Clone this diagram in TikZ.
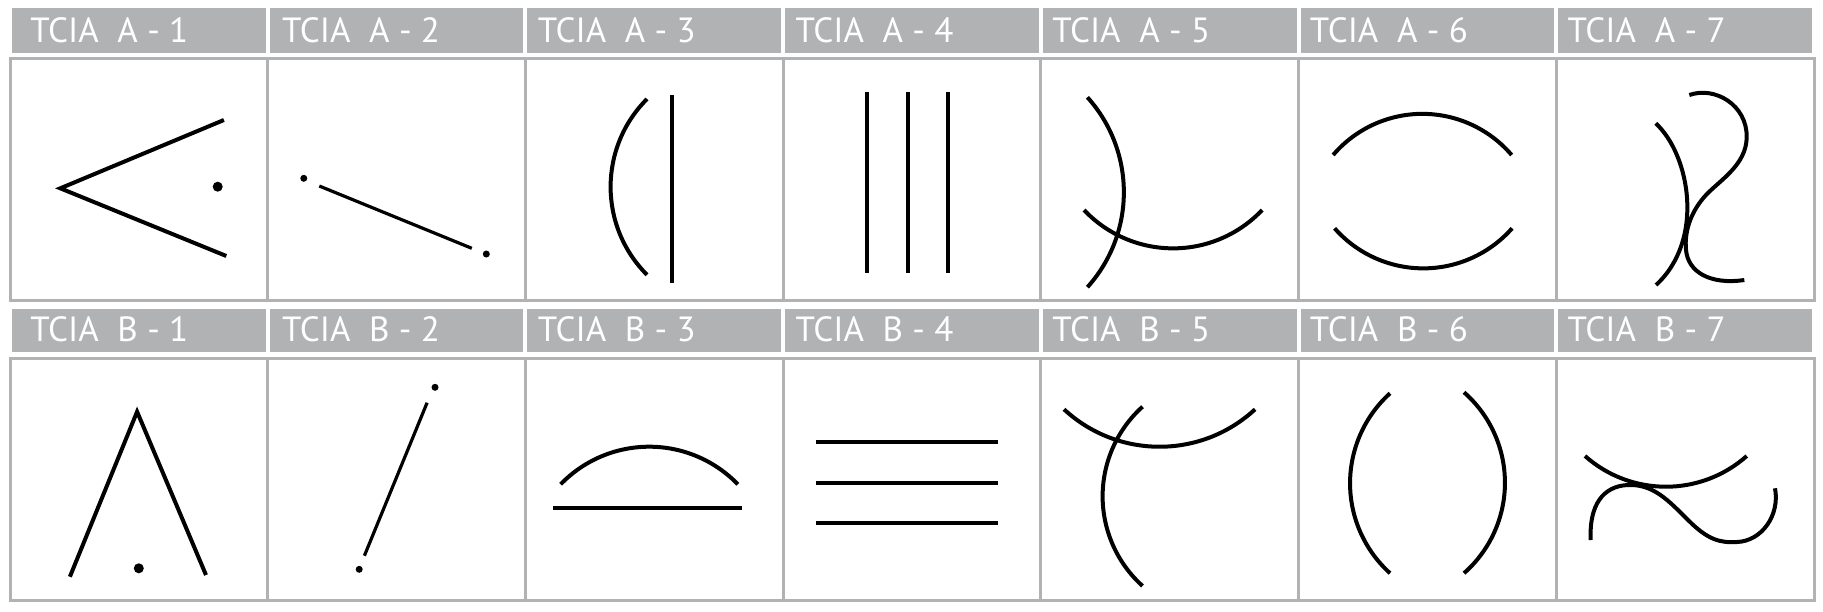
\documentclass[tikz,border=0pt]{standalone}
\usepackage{fontspec}
\setmainfont{PT Sans}
\usetikzlibrary{calc}
\definecolor{tciagray}{RGB}{177,178,180}

\begin{document}
\begin{tikzpicture}[x=0.5pt,y=-0.5pt,
  cellframe/.style={draw=tciagray, line width=1.5pt},
  headlbl/.style={text=white, anchor=base west, inner sep=0pt, font=\fontsize{17.5}{20}\selectfont},
  stroke/.style={draw=black, line width=2pt},
  thinstroke/.style={draw=black, line width=1.6pt}]
\useasboundingbox (0,0) rectangle (1823,611);

% header bars, frames and labels
\foreach \i/\dx [evaluate=\i as \xl using 10+257.714*\i,
                 evaluate=\i as \xr using 10+257.714*(\i+1),
                 evaluate=\i as \k using int(\i+1)]
    in {0/20,1/14,2/12,3/12,4/11,5/11,6/11} {
  \fill[tciagray] (\xl+2,8) rectangle (\xr-2,52.5);
  \fill[tciagray] (\xl+2,309) rectangle (\xr-2,352);
  \draw[cellframe] (\xl,58) rectangle (\xr,300);
  \draw[cellframe] (\xl,358) rectangle (\xr,600);
  \node[headlbl] (labA\k) at (\xl+\dx,42) {TCIA\ \ A - \k};
  \node[headlbl] (labB\k) at (\xl+\dx,341) {TCIA\ \ B - \k};
}

% A-1 chevron
\draw[stroke] (223.9,120) -- (60.3,188.3) -- (226.3,256);
\fill (217.7,186.7) circle[radius=5];

% A-2 line with dots
\fill (303.8,178.3) circle[radius=3.5];
\draw[thinstroke] (319.3,186) -- (471.8,248.3);
\fill (486.3,254) circle[radius=3.5];

% A-3 arc and bar
\draw[stroke] (647,99) arc[start angle=225, end angle=135, radius=124.3];
\draw[stroke] (672.2,95) -- (672.2,283.3);

% A-4 three bars
\draw[stroke] (867.2,91.7) -- (867.2,273.3);
\draw[stroke] (907.8,91.7) -- (907.8,273.3);
\draw[stroke] (948.1,91.7) -- (948.1,273.3);

% A-5 crossing arcs
\draw[stroke] (1087.4,97.3) arc[start angle=-42, end angle=42, radius=141.9];
\draw[stroke] (1084,210) arc[start angle=136.6, end angle=43.4, radius=122.6];

% A-6 facing arcs
\draw[stroke] (1333.1,155) arc[start angle=220.5, end angle=319.5, radius=117.4];
\draw[stroke] (1334.6,228.3) arc[start angle=138.6, end angle=41.4, radius=118.3];

% A-7 arc and s-curve
\draw[stroke] (1655.7,123.3) .. controls (1690,155) and (1705,240) .. (1656,285);
\draw[stroke] (1689.3,95) .. controls (1715,86) and (1747,105) .. (1746.7,137)
  .. controls (1746.4,165) and (1720,180) .. (1706,195)
  .. controls (1692,210) and (1684,230) .. (1686,250)
  .. controls (1688,272) and (1710,285) .. (1744.3,280);

% B-1 wedge
\draw[stroke] (69.9,576.7) -- (137.1,411.7) -- (206,575);
\fill (138.8,568.3) circle[radius=5];

% B-2 line with dots
\fill (435,387.3) circle[radius=3.5];
\draw[thinstroke] (427.1,402.7) -- (364.4,555.7);
\fill (359.2,569.3) circle[radius=3.5];

% B-3 arc over bar
\draw[stroke] (560.6,484.3) arc[start angle=224, end angle=316, radius=123.2];
\draw[stroke] (553.4,508.3) -- (742.1,508.3);

% B-4 three bars
\draw[stroke] (816.2,442.3) -- (997.7,442.3);
\draw[stroke] (816.2,482.7) -- (997.7,482.7);
\draw[stroke] (816.2,523.3) -- (997.7,523.3);

% B-5 crossing arcs
\draw[stroke] (1064,409.3) arc[start angle=132.8, end angle=47.2, radius=140.6];
\draw[stroke] (1142.5,406.7) arc[start angle=228, end angle=132, radius=120.6];

% B-6 facing arcs
\draw[stroke] (1390,393.3) arc[start angle=227.9, end angle=132.1, radius=121.25];
\draw[stroke] (1464,392.3) arc[start angle=-48.7, end angle=48.7, radius=120.4];

% B-7 arc and s-curve
\draw[stroke] (1585,456) arc[start angle=131.6, end angle=48.4, radius=121.8];
\draw[stroke] (1590.7,540) .. controls (1589,505) and (1603,486) .. (1628,485)
  .. controls (1653,484) and (1668,500) .. (1688,520)
  .. controls (1708,540) and (1720,543) .. (1737,542)
  .. controls (1762,541) and (1780,515) .. (1775,488.3);
\end{tikzpicture}
\end{document}
